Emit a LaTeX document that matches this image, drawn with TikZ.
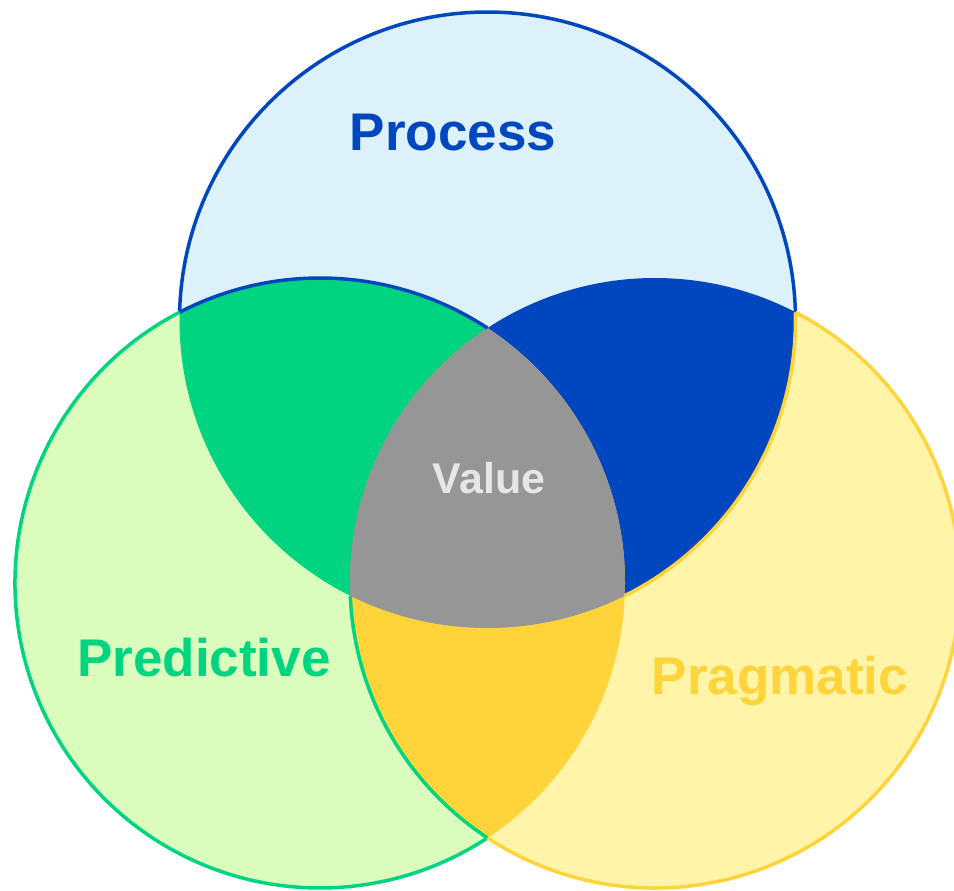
\documentclass[tikz,border=0pt]{standalone}
\usepackage{fontspec}
\setmainfont{Liberation Sans}
\definecolor{procLight}{HTML}{DDF1FA}
\definecolor{procDark}{HTML}{0047BF}
\definecolor{predLight}{HTML}{DAFDBE}
\definecolor{predDark}{HTML}{00D480}
\definecolor{pragLight}{HTML}{FFF4A8}
\definecolor{pragDark}{HTML}{FFD43A}
\definecolor{valueGrey}{HTML}{969696}
\definecolor{valueText}{HTML}{E6E6E6}
\begin{document}
\begin{tikzpicture}[x=1pt,y=1pt,
  rim/.style={line width=3.5pt},
  label/.style={font=\fontsize{53}{60}\selectfont\bfseries, anchor=base, inner sep=0pt}]
\useasboundingbox (0,0) rectangle (954,-891);
\clip (0,0) rectangle (954,-891);

% circle centres
\coordinate (cT) at (487.5,-320);
\coordinate (cL) at (320,-583);
\coordinate (cR) at (655,-583);

% light circle bodies
\fill[procLight] (cT) circle (308);
\fill[predLight] (cL) circle (305);
\fill[pragLight] (cR) circle (305);

% pairwise overlaps
\begin{scope}
  \clip (cT) circle (308);
  \fill[predDark] (cL) circle (305);
  \fill[procDark] (cR) circle (305);
\end{scope}
\begin{scope}
  \clip (cL) circle (305);
  \fill[pragDark] (cR) circle (305);
\end{scope}
% triple overlap
\begin{scope}
  \clip (cT) circle (308);
  \clip (cL) circle (305);
  \fill[valueGrey] (cR) circle (305);
\end{scope}

% outlines
\draw[rim, procDark] (cT) ++(178.57:308) arc[start angle=178.57, end angle=1.43, radius=308];
\draw[rim, procDark] (cL) ++(117.41:305) arc[start angle=117.41, end angle=56.69, radius=305];
\draw[rim, predDark] (cL) ++(117.41:305) arc[start angle=117.41, end angle=303.31, radius=305];
\draw[rim, predDark] (cR) ++(236.69:305) arc[start angle=236.69, end angle=182.4, radius=305];
\draw[rim, pragDark] (cR) ++(-123.31:305) arc[start angle=-123.31, end angle=62.59, radius=305];
\draw[rim, pragDark] (cT) ++(1.43:308) arc[start angle=1.43, end angle=-63.55, radius=308];

% labels
\node[label, text=procDark] (process) at (453,-150) {Process};
\node[label, text=predDark] (predictive) at (204,-676) {Predictive};
\node[label, text=pragDark] (pragmatic) at (780,-694) {Pragmatic};
\node[label, text=valueText, font=\fontsize{43}{50}\selectfont\bfseries] (value) at (489,-493) {Value};
\end{tikzpicture}
\end{document}
